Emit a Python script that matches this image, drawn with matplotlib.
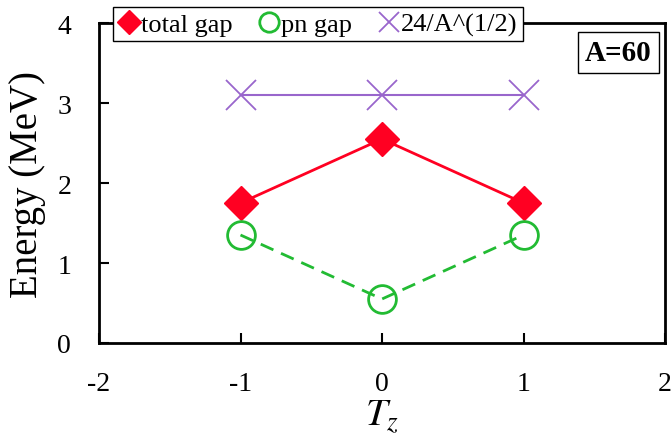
import numpy as np
import matplotlib.pyplot as plt

tz = [-1, 0, 1]
total_gap = [1.75, 2.55, 1.75]
pn_gap = [1.35, 0.55, 1.35]
mass_a = 60
ref_gap = [24 / np.sqrt(mass_a)] * 3

plt.rcParams['font.family'] = ['Liberation Serif', 'DejaVu Serif']
plt.rcParams['mathtext.fontset'] = 'stix'
plt.rcParams['axes.unicode_minus'] = False

fig = plt.figure(figsize=(6.72, 4.39), dpi=100)
ax = fig.add_axes([99 / 672, 1 - 344 / 439, 566 / 672, 320 / 439])

ax.plot(tz, total_gap, color='#ff0022', lw=2, marker='D', ms=17,
        label='total gap')
ax.plot(tz, pn_gap, color='#22bb33', lw=2, ls=(0, (5, 3)), marker='o', ms=20,
        mfc='none', mew=2, label='pn gap')
ax.plot(tz, ref_gap, color='#9966cc', lw=1.5, marker='x', ms=21, mew=1.3,
        label='24/A^(1/2)')

ax.set_xlim(-2, 2)
ax.set_ylim(0, 4)
ax.set_xticks([-2, -1, 0, 1, 2])
ax.set_yticks([0, 1, 2, 3, 4])
ax.tick_params(direction='in', length=7, width=1.5, labelsize=20, pad=20,
               top=False, right=False)
for s in ax.spines.values():
    s.set_linewidth(2)

ax.set_xlabel('$T_z$', fontsize=28, labelpad=1)
ax.set_ylabel('Energy (MeV)', fontsize=28, labelpad=8)

leg = ax.legend(loc='upper left', bbox_to_anchor=(0.025, 1.05), ncol=3,
                fontsize=19, handlelength=0.8, handletextpad=0.05,
                columnspacing=1.0, borderpad=0.2, borderaxespad=0,
                fancybox=False, framealpha=1, edgecolor='black',
                markerscale=0.7)
leg.get_frame().set_linewidth(1.0)
for h in leg.legend_handles:
    h.set_linestyle('none')
leg.set_zorder(5)

ax.text(0.977, 0.95, f'A={mass_a}', transform=ax.transAxes, ha='right',
        va='top', fontsize=21, fontweight='bold',
        bbox=dict(boxstyle='square,pad=0.25', fc='white', ec='black', lw=1.0))

fig.savefig('out.png', dpi=100)
